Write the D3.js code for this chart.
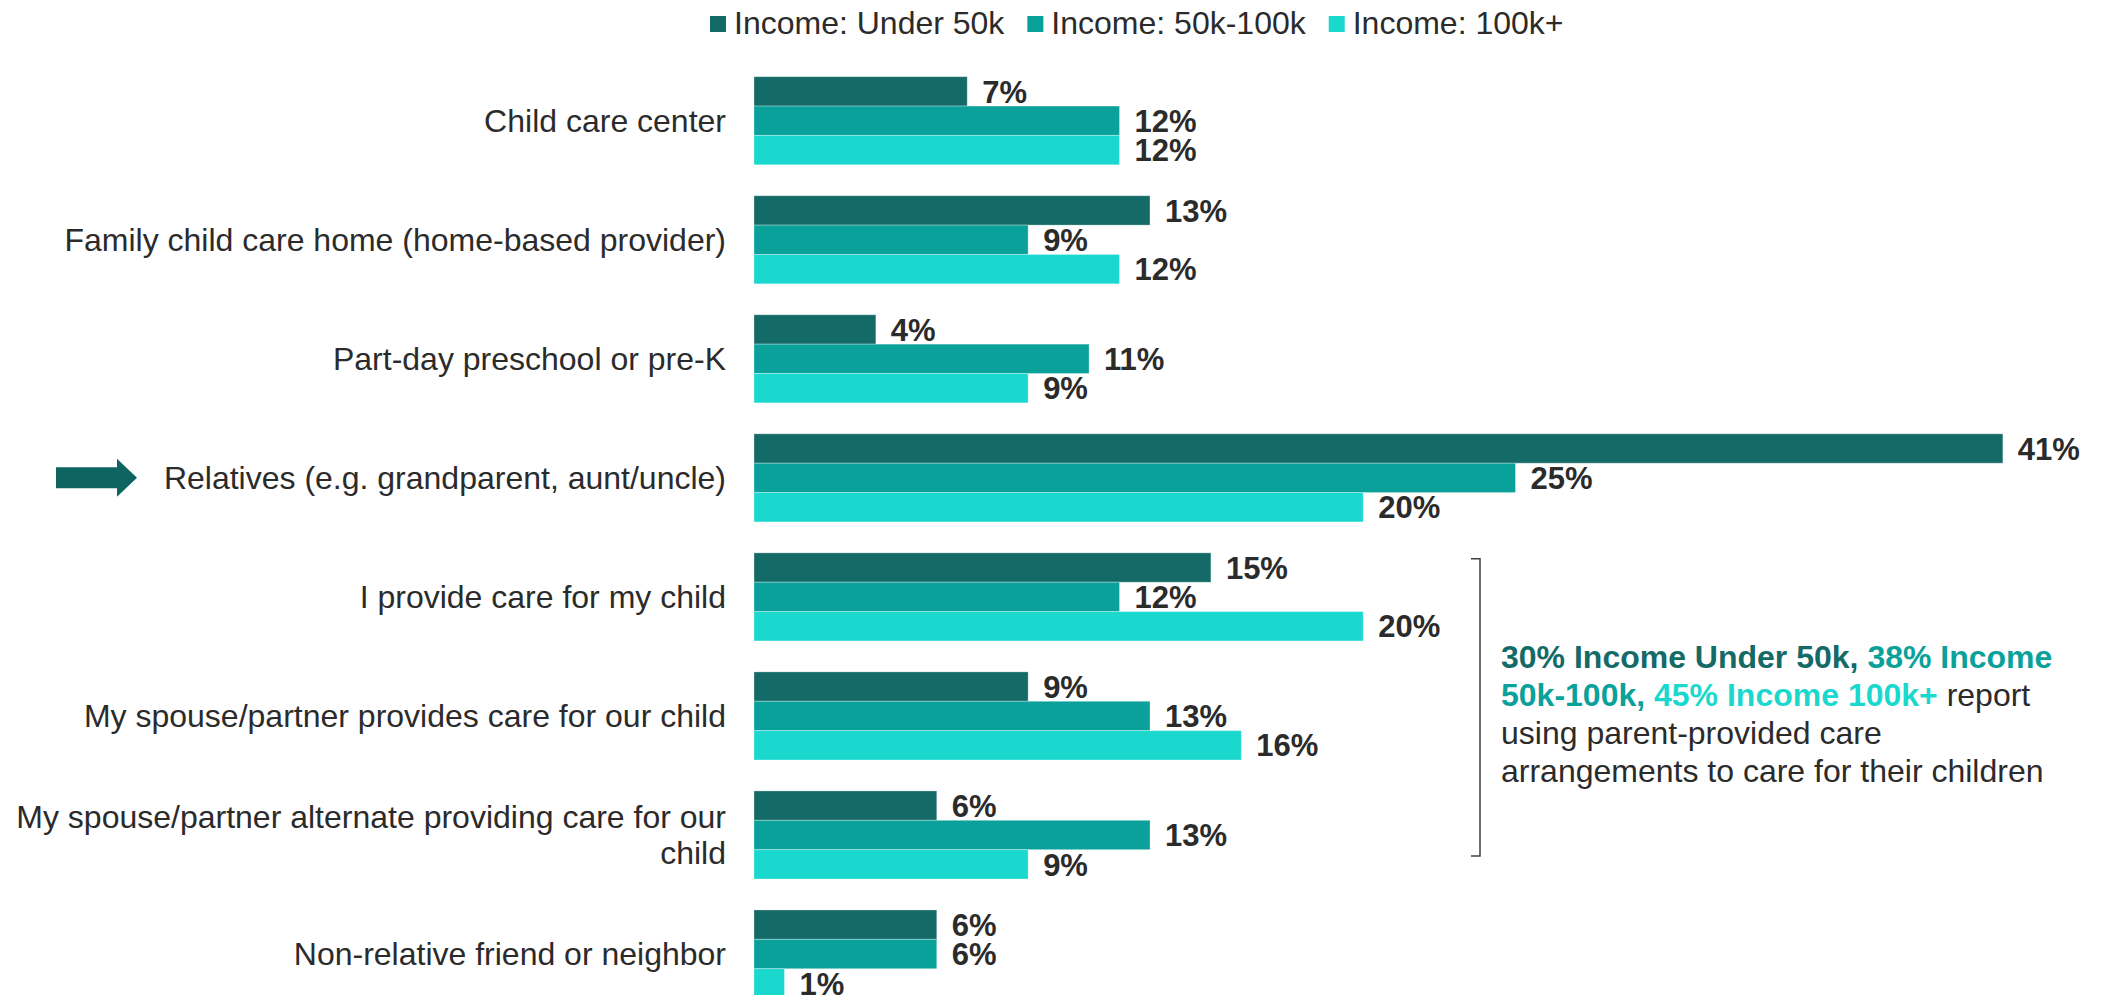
<!DOCTYPE html>
<html>
<head>
<meta charset="utf-8">
<script src="https://cdn.jsdelivr.net/npm/d3@7"></script>
<style>
  html, body { margin: 0; padding: 0; background: #ffffff; }
  svg { display: block; font-family: "Liberation Sans", Arial, sans-serif; }
</style>
</head>
<body>
<svg id="chart" width="2108" height="995"></svg>
<script>
// ---- data ----
const categories = [
  ["Child care center"],
  ["Family child care home (home-based provider)"],
  ["Part-day preschool or pre-K"],
  ["Relatives (e.g. grandparent, aunt/uncle)"],
  ["I provide care for my child"],
  ["My spouse/partner provides care for our child"],
  ["My spouse/partner alternate providing care for our", "child"],
  ["Non-relative friend or neighbor"]
];
const seriesNames = ["Income: Under 50k", "Income: 50k-100k", "Income: 100k+"];
const under50k = [7, 13, 4, 41, 15, 9, 6, 6];
const k50to100 = [12, 9, 11, 25, 12, 13, 13, 6];
const k100plus = [12, 12, 9, 20, 20, 16, 9, 1];
const seriesColors = ["#136a66", "#0aa19b", "#1bd8cf"];
const highlightIndex = 3;
const bracketFrom = 4, bracketTo = 6;
const noteParts = [
  [{t: "30% Income Under 50k, ", c: 0, b: true}, {t: "38% Income", c: 1, b: true}],
  [{t: "50k-100k, ", c: 1, b: true}, {t: "45% Income 100k+", c: 2, b: true}, {t: " report", c: -1, b: false}],
  [{t: "using parent-provided care", c: -1, b: false}],
  [{t: "arrangements to care for their children", c: -1, b: false}]
];

const seriesValues = [under50k, k50to100, k100plus];
const textColor = "#2b2b2b";
const svg = d3.select("#chart");

// ---- scales ----
const x = d3.scaleLinear().domain([0, 45]).range([754, 754 + 45 * 30.46]);
const step = 119.04, padIn = 0.26;
const y = d3.scaleBand()
  .domain(d3.range(categories.length))
  .range([76.7, 76.7 + step * (categories.length - padIn)])
  .paddingInner(padIn).paddingOuter(0);
const ySub = d3.scaleBand().domain(d3.range(3)).range([0, y.bandwidth()]);

// ---- bars ----
const groups = svg.append("g").selectAll("g")
  .data(categories.map((c, i) => ({c, i})))
  .join("g")
  .attr("transform", d => `translate(0,${y(d.i)})`);

groups.selectAll("rect")
  .data(d => seriesValues.map((vals, s) => ({v: vals[d.i], s})))
  .join("rect")
  .attr("x", x(0))
  .attr("y", d => ySub(d.s))
  .attr("width", d => x(d.v) - x(0))
  .attr("height", ySub.bandwidth())
  .attr("fill", d => seriesColors[d.s])
  .attr("stroke", "rgba(255,255,255,0.3)")
  .attr("stroke-width", 1);

groups.selectAll("text.val")
  .data(d => seriesValues.map((vals, s) => ({v: vals[d.i], s})))
  .join("text")
  .attr("class", "val")
  .attr("x", d => x(d.v) + 15)
  .attr("y", d => ySub(d.s) + ySub.bandwidth() / 2)
  .attr("dy", "0.36em")
  .attr("font-size", 31)
  .attr("font-weight", "bold")
  .attr("fill", textColor)
  .text(d => d.v + "%");

// ---- category labels ----
const lineH = 36;
groups.append("text")
  .attr("text-anchor", "end")
  .attr("font-size", 32)
  .attr("fill", textColor)
  .each(function(d) {
    const lines = d.c;
    const t = d3.select(this);
    lines.forEach((ln, k) => {
      t.append("tspan")
        .attr("x", x(0) - 28)
        .attr("y", y.bandwidth() / 2 + (k - (lines.length - 1) / 2) * lineH)
        .attr("dy", "0.35em")
        .text(ln);
    });
  });

// ---- highlight arrow ----
const ac = y(highlightIndex) + y.bandwidth() / 2;
const ap = d3.path();
ap.moveTo(56, ac - 10.5); ap.lineTo(117, ac - 10.5); ap.lineTo(117, ac - 19);
ap.lineTo(137, ac); ap.lineTo(117, ac + 19); ap.lineTo(117, ac + 10.5);
ap.lineTo(56, ac + 10.5); ap.closePath();
svg.append("path").attr("d", ap.toString()).attr("fill", "#0e6461");

// ---- legend ----
const legend = svg.append("g");
let lx = 710;
seriesNames.forEach((name, s) => {
  legend.append("rect").attr("x", lx).attr("y", 16).attr("width", 16).attr("height", 16)
    .attr("fill", seriesColors[s]);
  const t = legend.append("text").attr("x", lx + 24).attr("y", 34)
    .attr("font-size", 32).attr("fill", textColor).text(name);
  lx += 24 + t.node().getComputedTextLength() + 23;
});

// ---- bracket + note ----
const bTop = y(bracketFrom) + 6;
const bBot = y(bracketTo) + y.bandwidth() - 23;
const bx = 1480;
svg.append("path")
  .attr("d", `M${bx - 9},${bTop}H${bx}V${bBot}H${bx - 9}`)
  .attr("fill", "none").attr("stroke", "#404040").attr("stroke-width", 1.5);

const note = svg.append("text").attr("font-size", 32).attr("fill", textColor);
noteParts.forEach((line, k) => {
  line.forEach((p, j) => {
    const ts = note.append("tspan")
      .attr("fill", p.c >= 0 ? seriesColors[p.c] : textColor)
      .attr("font-weight", p.b ? "bold" : "normal")
      .text(p.t);
    if (j === 0) ts.attr("x", 1501).attr("y", 668 + k * 38);
  });
});
</script>
</body>
</html>
